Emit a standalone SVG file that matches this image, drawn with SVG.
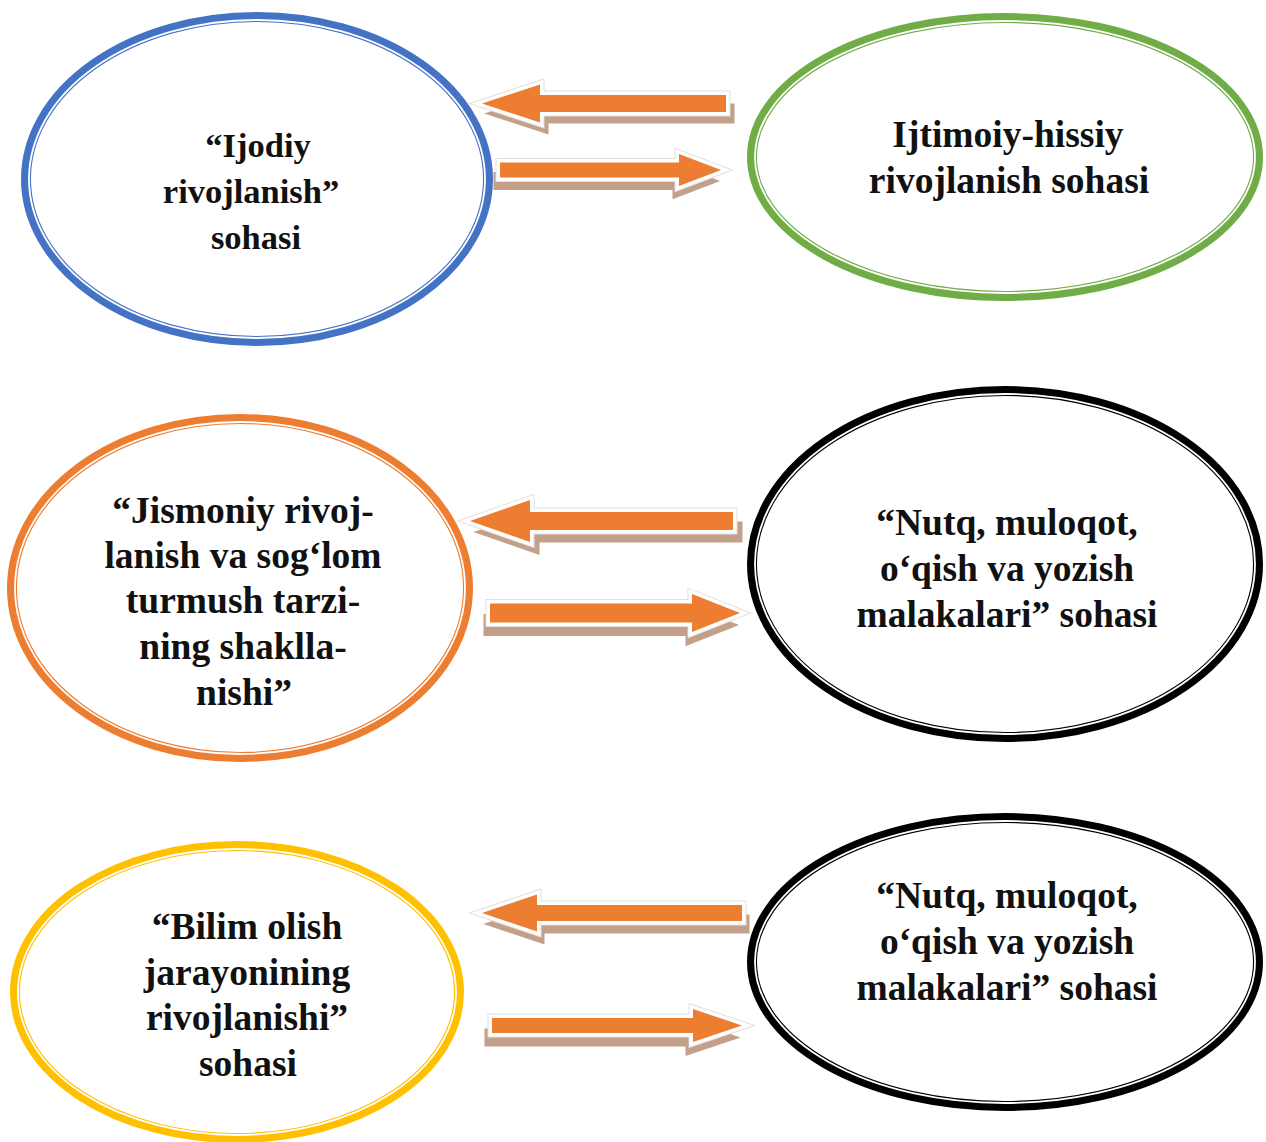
<svg xmlns="http://www.w3.org/2000/svg" xmlns:xlink="http://www.w3.org/1999/xlink" width="1266" height="1142" viewBox="0 0 1266 1142">
<style>
.ring{fill:#fff;stroke-width:10}
.gap{fill:none;stroke:#fff;stroke-width:1.8}
.lbl{font-family:"Liberation Serif","Times New Roman",serif;font-weight:bold;font-size:37.5px;fill:#111;text-anchor:middle}
.sm{font-size:34.5px}
.sh{fill:#C3A08A;stroke:#C3A08A;stroke-width:3;stroke-linejoin:miter}
.ar{fill:#ED7D31;stroke:#fff;stroke-width:7;stroke-linejoin:miter;paint-order:stroke}
.edge{fill:none;stroke:#e4dfdb;stroke-width:9;stroke-linejoin:miter}
</style>
<defs>
<path id="p1" d="M726,95 H540 V84.5 L482,103.5 L540,122.5 V112 H726 Z"/>
<path id="p2" d="M500,162.5 H679 V154 L721,170 L679,186 V177.5 H500 Z"/>
<path id="p3" d="M733,512 H530 V500 L470,521 L530,542 V530 H733 Z"/>
<path id="p4" d="M490,603.5 H692 V594 L740,613 L692,632 V622.5 H490 Z"/>
<path id="p5" d="M742,905 H537 V894.5 L482,913 L537,931.5 V921 H742 Z"/>
<path id="p6" d="M492,1018 H693 V1009 L742,1025.5 L693,1042 V1033 H492 Z"/>
</defs>
<rect width="1266" height="1142" fill="#fff"/>
<g id="node-ijodiy">
<ellipse class="ring" cx="257" cy="179" rx="231" ry="162" stroke="#4472C4"/>
<ellipse class="gap" cx="257" cy="179" rx="228" ry="159"/>
<text class="lbl sm" x="258" y="157">“Ijodiy</text>
<text class="lbl sm" x="251" y="203">rivojlanish”</text>
<text class="lbl sm" x="256" y="249">sohasi</text>
</g>
<g id="node-ijtimoiy">
<ellipse class="ring" cx="1005" cy="157" rx="253" ry="139" stroke="#70AD47"/>
<ellipse class="gap" cx="1005" cy="157" rx="250" ry="136"/>
<text class="lbl" x="1008" y="147">Ijtimoiy-hissiy</text>
<text class="lbl" x="1009" y="193">rivojlanish sohasi</text>
</g>
<g id="node-jismoniy">
<ellipse class="ring" cx="240" cy="588" rx="228" ry="169" stroke="#ED7D31"/>
<ellipse class="gap" cx="240" cy="588" rx="225" ry="166"/>
<text class="lbl" x="243" y="523">“Jismoniy rivoj-</text>
<text class="lbl" x="243" y="568">lanish va sog‘lom</text>
<text class="lbl" x="243" y="613">turmush tarzi-</text>
<text class="lbl" x="243" y="659">ning shaklla-</text>
<text class="lbl" x="244" y="705">nishi”</text>
</g>
<g id="node-nutq-1">
<ellipse class="ring" cx="1005" cy="564" rx="253" ry="173" stroke="#000"/>
<ellipse class="gap" cx="1005" cy="564" rx="250" ry="170"/>
<text class="lbl" x="1007" y="535">“Nutq, muloqot,</text>
<text class="lbl" x="1007" y="581">o‘qish va yozish</text>
<text class="lbl" x="1007" y="627">malakalari” sohasi</text>
</g>
<g id="node-bilim">
<ellipse class="ring" cx="237" cy="992" rx="222" ry="146" stroke="#FFC000"/>
<ellipse class="gap" cx="237" cy="992" rx="219" ry="143"/>
<text class="lbl" x="247" y="939">“Bilim olish</text>
<text class="lbl" x="247" y="985">jarayonining</text>
<text class="lbl" x="247" y="1030">rivojlanishi”</text>
<text class="lbl" x="248" y="1076">sohasi</text>
</g>
<g id="node-nutq-2">
<ellipse class="ring" cx="1005" cy="962" rx="253" ry="144" stroke="#000"/>
<ellipse class="gap" cx="1005" cy="962" rx="250" ry="141"/>
<text class="lbl" x="1007" y="908">“Nutq, muloqot,</text>
<text class="lbl" x="1007" y="954">o‘qish va yozish</text>
<text class="lbl" x="1007" y="1000">malakalari” sohasi</text>
</g>
<g id="connectors">
<use xlink:href="#p1" class="sh" transform="translate(7,10)"/>
<use xlink:href="#p1" class="edge"/>
<use xlink:href="#p1" class="ar"/>
<use xlink:href="#p2" class="sh" transform="translate(-5,11)"/>
<use xlink:href="#p2" class="edge"/>
<use xlink:href="#p2" class="ar"/>
<use xlink:href="#p3" class="sh" transform="translate(8,11)"/>
<use xlink:href="#p3" class="edge"/>
<use xlink:href="#p3" class="ar"/>
<use xlink:href="#p4" class="sh" transform="translate(-5,12)"/>
<use xlink:href="#p4" class="edge"/>
<use xlink:href="#p4" class="ar"/>
<use xlink:href="#p5" class="sh" transform="translate(6,11)"/>
<use xlink:href="#p5" class="edge"/>
<use xlink:href="#p5" class="ar"/>
<use xlink:href="#p6" class="sh" transform="translate(-6,12)"/>
<use xlink:href="#p6" class="edge"/>
<use xlink:href="#p6" class="ar"/>
</g>
</svg>
